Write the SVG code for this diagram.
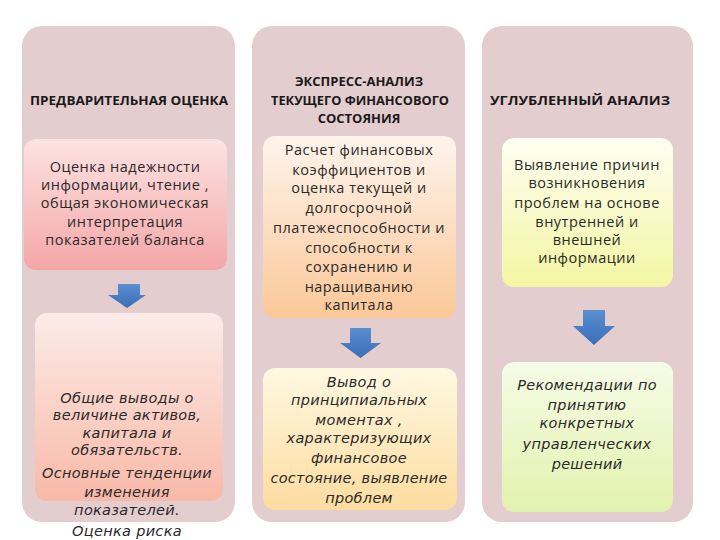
<svg xmlns="http://www.w3.org/2000/svg" width="720" height="540" viewBox="0 0 720 540">
<defs>
<linearGradient id="g1" x1="0" y1="0" x2="0" y2="1"><stop offset="0" stop-color="#fde3e2"/><stop offset="1" stop-color="#f4a6a7"/></linearGradient>
<linearGradient id="g2" x1="0" y1="0" x2="0" y2="1"><stop offset="0" stop-color="#fcebe8"/><stop offset="1" stop-color="#f8b9a7"/></linearGradient>
<linearGradient id="g3" x1="0" y1="0" x2="0" y2="1"><stop offset="0" stop-color="#fef4ec"/><stop offset="1" stop-color="#fbc898"/></linearGradient>
<linearGradient id="g4" x1="0" y1="0" x2="0" y2="1"><stop offset="0" stop-color="#fff8e2"/><stop offset="1" stop-color="#fddc9f"/></linearGradient>
<linearGradient id="g5" x1="0" y1="0" x2="0" y2="1"><stop offset="0" stop-color="#fefef2"/><stop offset="1" stop-color="#f3f6a2"/></linearGradient>
<linearGradient id="g6" x1="0" y1="0" x2="0" y2="1"><stop offset="0" stop-color="#f6fbe6"/><stop offset="1" stop-color="#e2f2ae"/></linearGradient>
<linearGradient id="ga" x1="0" y1="0" x2="0" y2="1"><stop offset="0" stop-color="#5a8fd2"/><stop offset="1" stop-color="#3a6db5"/></linearGradient>
<style>
.panel{fill:#e4cdcf}
.hd{font-family:"Open Sans","Liberation Sans",sans-serif;font-weight:bold;font-size:13px;fill:#1a1a1a;text-anchor:middle}
.tx{font-family:"Open Sans","Liberation Sans",sans-serif;font-size:14.5px;letter-spacing:0.5px;fill:#2a2a2a;text-anchor:middle}
.it{font-family:"DejaVu Sans","Liberation Sans",sans-serif;font-style:italic;font-size:14.5px;letter-spacing:0.3px;fill:#2a2a2a;text-anchor:middle}
.arr{fill:url(#ga)}
</style>
</defs>
<rect width="720" height="540" fill="#ffffff"/>
<g id="col1">
<rect class="panel" x="22" y="26" width="213" height="496" rx="20"/>
<text class="hd" x="129" y="105" textLength="198" lengthAdjust="spacingAndGlyphs">ПРЕДВАРИТЕЛЬНАЯ ОЦЕНКА</text>
</g>
<g id="col2">
<rect class="panel" x="252" y="26" width="213" height="496" rx="20"/>
<text class="hd"><tspan x="359" y="86">ЭКСПРЕСС-АНАЛИЗ</tspan></text>
<text class="hd" x="360" y="105" textLength="178" lengthAdjust="spacingAndGlyphs">ТЕКУЩЕГО ФИНАНСОВОГО</text>
<text class="hd"><tspan x="359" y="123">СОСТОЯНИЯ</tspan></text>
</g>
<g id="col3">
<rect class="panel" x="482" y="26" width="211" height="496" rx="20"/>
<text class="hd" x="580" y="105" textLength="180" lengthAdjust="spacingAndGlyphs">УГЛУБЛЕННЫЙ АНАЛИЗ</text>
</g>
<g id="box1">
<rect x="24" y="139" width="203" height="131" rx="12" fill="url(#g1)"/>
<text class="tx"><tspan x="125" y="172">Оценка надежности</tspan><tspan x="125" y="190">информации, чтение ,</tspan><tspan x="125" y="208">общая экономическая</tspan><tspan x="125" y="227">интерпретация</tspan><tspan x="125" y="245">показателей баланса</tspan></text>
</g>
<g id="box2">
<rect x="35" y="313" width="188" height="188" rx="12" fill="url(#g2)"/>
<text class="it"><tspan x="127" y="403">Общие выводы о</tspan><tspan x="127" y="420">величине активов,</tspan><tspan x="127" y="438">капитала и</tspan><tspan x="127" y="455">обязательств.</tspan><tspan x="127" y="478">Основные тенденции</tspan><tspan x="127" y="497">изменения</tspan><tspan x="127" y="515">показателей.</tspan><tspan x="127" y="536">Оценка риска</tspan></text>
</g>
<g id="box3">
<rect x="263" y="136" width="193" height="182" rx="12" fill="url(#g3)"/>
<text class="tx"><tspan x="359" y="155">Расчет финансовых</tspan><tspan x="359" y="175">коэффициентов и</tspan><tspan x="359" y="193">оценка текущей и</tspan><tspan x="359" y="213">долгосрочной</tspan><tspan x="359" y="233">платежеспособности и</tspan><tspan x="359" y="253">способности к</tspan><tspan x="359" y="272">сохранению и</tspan><tspan x="359" y="292">наращиванию</tspan><tspan x="359" y="310">капитала</tspan></text>
</g>
<g id="box4">
<rect x="263" y="368" width="194" height="142" rx="12" fill="url(#g4)"/>
<text class="it"><tspan x="359" y="387">Вывод о</tspan><tspan x="359" y="405">принципиальных</tspan><tspan x="359" y="425">моментах ,</tspan><tspan x="359" y="443">характеризующих</tspan><tspan x="359" y="463">финансовое</tspan><tspan x="359" y="483">состояние, выявление</tspan><tspan x="359" y="503">проблем</tspan></text>
</g>
<g id="box5">
<rect x="502" y="138" width="171" height="149" rx="12" fill="url(#g5)"/>
<text class="tx"><tspan x="587" y="170">Выявление причин</tspan><tspan x="587" y="188">возникновения</tspan><tspan x="587" y="208">проблем на основе</tspan><tspan x="587" y="227">внутренней и</tspan><tspan x="587" y="245">внешней</tspan><tspan x="587" y="263">информации</tspan></text>
</g>
<g id="box6">
<rect x="502" y="362" width="171" height="150" rx="12" fill="url(#g6)"/>
<text class="it"><tspan x="587" y="390">Рекомендации по</tspan><tspan x="587" y="410">принятию</tspan><tspan x="587" y="428">конкретных</tspan><tspan x="587" y="449">управленческих</tspan><tspan x="587" y="469">решений</tspan></text>
</g>
<g id="connectors">
<polygon class="arr" points="118,284 140,284 140,295 146,295 127,308 108,295 118,295"/>
<polygon class="arr" points="350,328 371,328 371,343 381,343 360.5,358 340,343 350,343"/>
<polygon class="arr" points="583,310 605,310 605,326 615,326 594,345 573,326 583,326"/>
</g>
</svg>
